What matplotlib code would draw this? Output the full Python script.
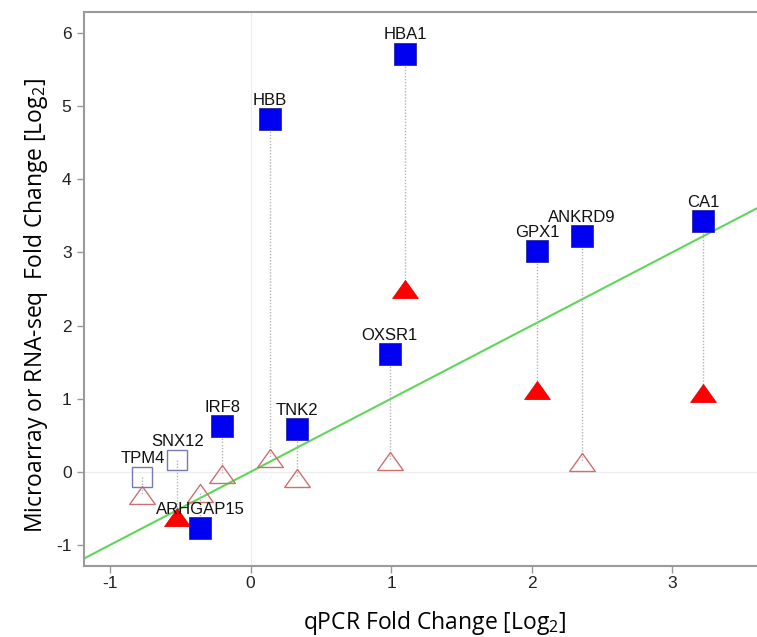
import matplotlib
matplotlib.use("Agg")
from matplotlib import pyplot as plt
from matplotlib.path import Path

# genes, qPCR fold change (x) and the two comparison platforms (y)
genes = ["HBA1", "HBB", "CA1", "ANKRD9", "GPX1", "OXSR1",
         "IRF8", "TNK2", "SNX12", "TPM4", "ARHGAP15"]
qpcr_fc = [1.10, 0.14, 3.22, 2.36, 2.04, 0.99, -0.20, 0.33, -0.52, -0.77, -0.36]
microarray_fc = [5.72, 4.83, 3.43, 3.23, 3.02, 1.61, 0.63, 0.59, 0.16, -0.07, -0.77]
microarray_sig = [True, True, True, True, True, True, True, True, False, False, True]
rnaseq_fc = [2.50, 0.19, 1.08, 0.14, 1.12, 0.15, -0.03, -0.08, -0.62, -0.31, -0.29]
rnaseq_sig = [True, False, True, False, True, False, False, False, True, False, False]

xticks = [-1, 0, 1, 2, 3]
yticks = [-1, 0, 1, 2, 3, 4, 5, 6]

plt.rcParams["mathtext.fontset"] = "custom"
plt.rcParams["mathtext.rm"] = "Open Sans"

fig = plt.figure(figsize=(7.57, 6.37), dpi=100)
ax = fig.add_axes([0.111, 0.1115, 0.889, 0.8695])

ax.set_xlim(-1.185, 3.605)
ax.set_ylim(-1.287, 6.287)

# faint zero lines
ax.axvline(0, color="#ececec", lw=0.8, zorder=0)
ax.axhline(0, color="#ececec", lw=0.8, zorder=0)

# identity line
ax.plot([-2, 5], [-2, 5], color="#5fd65a", lw=1.5, zorder=1)

# wide, flat triangle marker (closed)
tri = Path([(-1, -0.7), (1, -0.7), (0, 0.7), (-1, -0.7)],
           [Path.MOVETO, Path.LINETO, Path.LINETO, Path.CLOSEPOLY])

for g, x, ym, sm, yr, sr in zip(genes, qpcr_fc, microarray_fc, microarray_sig,
                                rnaseq_fc, rnaseq_sig):
    ax.plot([x, x], [ym, yr], color="#b4b4b4", lw=1.0, ls=(0, (1, 1.2)), zorder=2)
    if sr:
        ax.plot(x, yr, marker=tri, ms=18.5, mfc="#ff0000", mec="#ee0000",
                mew=0.6, ls="none", zorder=3)
    else:
        ax.plot(x, yr, marker=tri, ms=18.5, mfc="none", mec="#cc7070",
                mew=1.0, ls="none", zorder=3)
    if sm:
        ax.plot(x, ym, marker="s", ms=15.5, mfc="#0000f0", mec="#2a2aa0",
                mew=0.6, ls="none", zorder=4)
    else:
        ax.plot(x, ym, marker="s", ms=14, mfc="none", mec="#7878b8",
                mew=1.0, ls="none", zorder=4)
    ax.annotate(g, (x, ym), xytext=(0, 8), textcoords="offset points",
                ha="center", va="bottom", fontsize=12,
                family="Liberation Sans", color="#111111", zorder=5)

ax.set_xticks(xticks)
ax.set_yticks(yticks)
ax.set_xticklabels([str(t) for t in xticks], family="Liberation Sans", fontsize=12.5)
ax.set_yticklabels([str(t) for t in yticks], family="Liberation Sans", fontsize=12.5)
ax.tick_params(axis="both", direction="out", length=5, width=1, color="#999999",
               labelcolor="#222222")
ax.tick_params(axis="x", pad=2)
ax.tick_params(axis="y", pad=4)

for side in ["left", "bottom", "top"]:
    ax.spines[side].set_color("#9a9a9a")
    ax.spines[side].set_linewidth(1.5)
ax.spines["right"].set_visible(False)

ax.set_xlabel("qPCR Fold Change [Log$_\\mathregular{2}$]", family="Open Sans", fontsize=16.5)
ax.xaxis.set_label_coords(0.5215, -0.078)
ax.set_ylabel("Microarray or RNA-seq  Fold Change [Log$_\\mathregular{2}$]",
              family="Open Sans", fontsize=16.5)
ax.yaxis.set_label_coords(-0.05, 0.47)

fig.savefig("out.png", dpi=100)
